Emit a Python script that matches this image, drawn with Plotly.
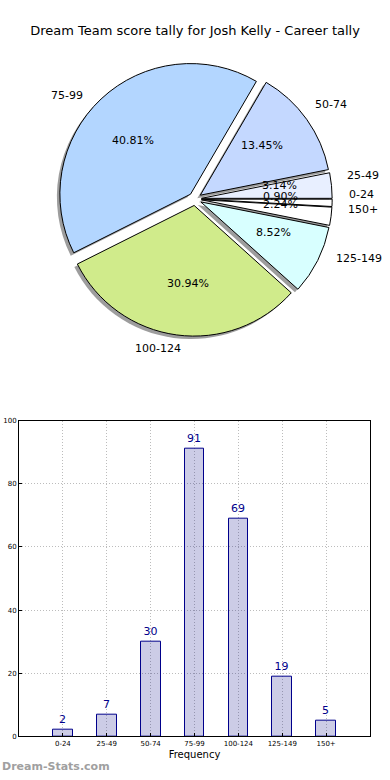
import math
import plotly.graph_objects as go

categories = ["0-24", "25-49", "50-74", "75-99", "100-124", "125-149", "150+"]
counts = [2, 7, 30, 91, 69, 19, 5]
pie_colors = ["#ffffff", "#e8efff", "#c4d8ff", "#b3d6ff", "#d0eb8b", "#d8ffff", "#ffffff"]
y_ticks = [0, 20, 40, 60, 80, 100]

W, H = 390, 780
FONT = "DejaVu Sans"

# pie geometry in pixels
cx, cy, r = 195, 197, 132
pull = 0.05
half = r * (1 + pull)


def dom(dx=0, dy=0):
    return dict(x=[(cx - half + dx) / W, (cx + half + dx) / W],
                y=[1 - (cy + half + dy) / H, 1 - (cy - half + dy) / H])


fig = go.Figure()

# shadow
fig.add_trace(go.Pie(
    labels=categories, values=counts, sort=False, direction="counterclockwise",
    rotation=90, pull=[pull] * len(counts), domain=dom(-3, 3),
    marker=dict(colors=["rgba(60,60,60,0.5)"] * len(counts), line=dict(width=0)),
    textinfo="none", hoverinfo="skip", showlegend=False))

# main pie
fig.add_trace(go.Pie(
    labels=categories, values=counts, sort=False, direction="counterclockwise",
    rotation=90, pull=[pull] * len(counts), domain=dom(),
    marker=dict(colors=pie_colors, line=dict(color="#000000", width=1)),
    textinfo="none", showlegend=False))

# pie text (labels at 1.1 r, percents at 0.6 r, like matplotlib)
annotations = []
total = sum(counts)
cum = 0
for lab, v in zip(categories, counts):
    mid = math.radians(360 * (cum + v / 2) / total)
    cum += v
    ex, ey = cx + pull * r * math.cos(mid), cy - pull * r * math.sin(mid)
    lx, ly = ex + 1.1 * r * math.cos(mid), ey - 1.1 * r * math.sin(mid)
    px, py = ex + 0.6 * r * math.cos(mid), ey - 0.6 * r * math.sin(mid)
    annotations.append(dict(text=lab, x=lx / W, y=1 - ly / H, xref="paper", yref="paper",
                            xanchor="left" if lx > cx else "right", yanchor="middle",
                            showarrow=False,
                            font=dict(family=FONT, size=11, color="#000000")))
    annotations.append(dict(text=f"{100 * v / total:.2f}%", x=px / W, y=1 - py / H,
                            xref="paper", yref="paper",
                            xanchor="center", yanchor="middle", showarrow=False,
                            font=dict(family=FONT, size=11, color="#000000")))

annotations.append(dict(text="<b>Dream-Stats.com</b>", xref="paper", yref="paper",
                        x=0, y=1 - 770 / H, xanchor="left", yanchor="middle",
                        showarrow=False,
                        font=dict(family=FONT, size=11, color="#a0a0a0")))

# bar chart
fig.add_trace(go.Bar(
    x=categories, y=counts, width=0.45,
    marker=dict(color="rgba(0,0,128,0.2)", line=dict(color="#00008b", width=1)),
    text=counts, texttemplate="%{y}", textposition="outside",
    textfont=dict(family=FONT, size=11, color="#00008b"),
    cliponaxis=False, showlegend=False))

grid = dict(showgrid=True, gridcolor="#bcbcbc", griddash="1px,2px", gridwidth=1,
            showline=True, linecolor="#000000", linewidth=1, mirror=True,
            ticks="inside", ticklen=3, tickcolor="#000000",
            tickfont=dict(family=FONT, size=7, color="#000000"),
            zeroline=False, fixedrange=True)

fig.update_layout(
    width=W, height=H,
    margin=dict(l=0, r=0, t=0, b=0),
    paper_bgcolor="white", plot_bgcolor="white",
    font=dict(family=FONT, color="#000000"),
    title=dict(text="Dream Team score tally for Josh Kelly - Career tally",
               x=0.5, xanchor="center", y=1 - 30 / H, yanchor="middle",
               font=dict(family=FONT, size=13, color="#000000")),
    bargap=0,
    xaxis=dict(domain=[19 / W, 370 / W], range=[-1, 7], type="category",
               title=dict(text="Frequency", standoff=4,
                          font=dict(family=FONT, size=10, color="#000000")),
               **grid),
    yaxis=dict(domain=[1 - 740 / H, 1 - 421 / H], range=[0, 100],
               tickvals=y_ticks, **grid),
    annotations=annotations,
)

fig.write_html("out.html", config={"displayModeBar": False},
               post_script="document.body.style.margin='0px';")
